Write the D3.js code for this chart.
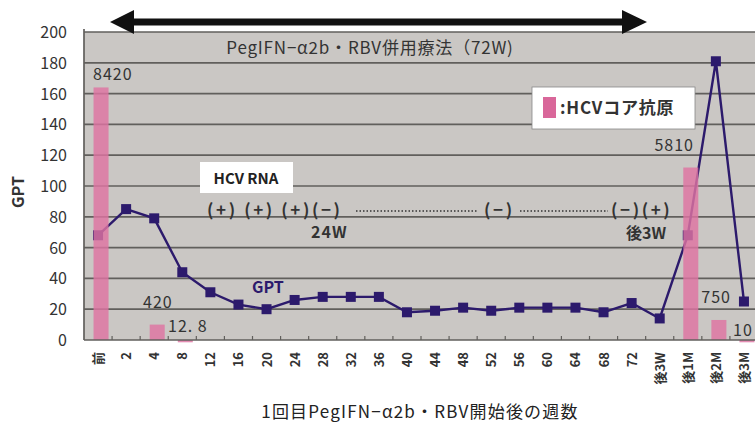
<!DOCTYPE html>
<html>
<head>
<meta charset="utf-8">
<style>
  body { margin: 0; background: #fff; }
  svg text { font-family: "Noto Sans CJK JP", "Liberation Sans", sans-serif; }
</style>
</head>
<body>
<div id="vis-gpt"></div>

<script src="https://d3js.org/d3.v7.min.js"></script>
<script>

	// Data //
	// ---- //

	const weeks = ["前", "2", "4", "8", "12", "16", "20", "24", "28", "32", "36", "40", "44",
		"48", "52", "56", "60", "64", "68", "72", "後3W", "後1M", "後2M", "後3M"];

	const gpt = [68, 85, 79, 44, 31, 23, 20, 26, 28, 28, 28, 18, 19,
		21, 19, 21, 21, 21, 18, 24, 14, 68, 181, 25];

	// HCVコア抗原 (bar height on GPT axis) and its label
	const coreWeeks = ["前", "4", "8", "後1M", "後2M", "後3M"];
	const coreHeights = [164, 10, -1.5, 112, 13, -1.5];
	const coreLabels = ["8420", "420", "12. 8", "5810", "750", "10"];

	const yTicks = [0, 20, 40, 60, 80, 100, 120, 140, 160, 180, 200];

	// Setup //
	// ----- //

	const W = 755, H = 424;
	const margin = {top: 32, right: -3, bottom: 84, left: 84};

	const svg = d3.select("#vis-gpt")
		.append("svg")
			.attr("width", W)
			.attr("height", H);

	const x = d3.scaleBand().domain(weeks).range([margin.left, W - margin.right]).padding(0);
	const y = d3.scaleLinear().domain([0, 200]).range([H - margin.bottom, margin.top]);

	const x0 = margin.left, x1 = W - margin.right;

	// plot background
	svg.append("rect")
		.attr("x", x0).attr("y", y(200))
		.attr("width", x1 - x0).attr("height", y(0) - y(200))
		.attr("fill", "#cac7c4");

	// gridlines
	svg.selectAll(".grid")
		.data(yTicks.filter(d => d > 0))
		.enter().append("line")
			.attr("x1", x0).attr("x2", x1)
			.attr("y1", d => y(d)).attr("y2", d => y(d))
			.attr("stroke", "#615f5c")
			.attr("stroke-width", 1.7);

	// left axis
	svg.append("line")
		.attr("x1", x0).attr("x2", x0)
		.attr("y1", y(200) - 3).attr("y2", y(0))
		.attr("stroke", "#615f5c").attr("stroke-width", 1.7);

	svg.selectAll(".ylab")
		.data(yTicks)
		.enter().append("text")
			.attr("x", 67)
			.attr("y", d => y(d) + 6)
			.attr("text-anchor", "end")
			.attr("font-family", "Liberation Sans")
			.attr("font-size", 16)
			.attr("fill", "#333")
			.text(d => d);

	svg.append("text")
		.attr("transform", "translate(24,192) rotate(-90)")
		.attr("text-anchor", "middle")
		.attr("font-size", 16)
		.attr("font-weight", "bold")
		.attr("fill", "#333")
		.text("GPT");

	// GPT line
	const line = d3.line()
		.x((d, i) => x(weeks[i]) + x.bandwidth() / 2)
		.y(d => y(d));

	svg.append("path")
		.datum(gpt)
		.attr("d", line)
		.attr("fill", "none")
		.attr("stroke", "#2c1a6c")
		.attr("stroke-width", 2.4);

	svg.selectAll(".mark")
		.data(gpt)
		.enter().append("rect")
			.attr("x", (d, i) => x(weeks[i]) + x.bandwidth() / 2 - 5)
			.attr("y", d => y(d) - 5)
			.attr("width", 10).attr("height", 10)
			.attr("fill", "#2c1a6c");

	// HCV core antigen bars
	const bw = 15;
	svg.selectAll(".bar")
		.data(coreHeights)
		.enter().append("rect")
			.attr("x", (d, i) => x(coreWeeks[i]) + x.bandwidth() / 2 - bw / 2 + 3)
			.attr("y", d => Math.min(y(d), y(0)))
			.attr("width", bw)
			.attr("height", d => Math.abs(y(0) - y(d)))
			.attr("fill", "#de74a2")
			.attr("fill-opacity", 0.82);

	// x axis
	svg.append("line")
		.attr("x1", x0).attr("x2", x1)
		.attr("y1", y(0)).attr("y2", y(0))
		.attr("stroke", "#615f5c").attr("stroke-width", 1.7);

	svg.selectAll(".xtick")
		.data(weeks.slice(1))
		.enter().append("line")
			.attr("x1", d => x(d)).attr("x2", d => x(d))
			.attr("y1", y(0)).attr("y2", y(0) - 4)
			.attr("stroke", "#615f5c").attr("stroke-width", 1.2);

	svg.selectAll(".xlab")
		.data(weeks)
		.enter().append("text")
			.attr("transform", d => "translate(" + (x(d) + x.bandwidth() / 2 + 5) + "," + 352 + ") rotate(-90)")
			.attr("text-anchor", "end")
			.attr("font-size", 13)
			.attr("font-weight", "bold")
			.attr("fill", "#333")
			.text(d => d);

	svg.append("text")
		.attr("x", 420).attr("y", 418)
		.attr("text-anchor", "middle")
		.attr("font-size", 17)
		.attr("letter-spacing", 1.2)
		.attr("fill", "#222")
		.text("1回目PegIFN−α2b・RBV開始後の週数");

	// bar labels
	const labelPos = [[93, 80, "start"], [143, 308, "start"], [168, 332, "start"],
		[694, 151, "end"], [731, 303, "end"], [733, 336, "start"]];
	svg.selectAll(".blab")
		.data(coreLabels)
		.enter().append("text")
			.attr("x", (d, i) => labelPos[i][0])
			.attr("y", (d, i) => labelPos[i][1])
			.attr("text-anchor", (d, i) => labelPos[i][2])
			.attr("font-family", "Liberation Sans")
			.attr("font-size", 16)
			.attr("letter-spacing", 1)
			.attr("fill", "#333")
			.text(d => d);

	// annotations
	// treatment arrow
	svg.append("path")
		.attr("d", "M110,22 L134,10 L134,18.5 L622,18.5 L622,10 L647,22 L622,34 L622,25.5 L134,25.5 L134,34 Z")
		.attr("fill", "#111");

	svg.append("text")
		.attr("x", 370).attr("y", 54)
		.attr("text-anchor", "middle")
		.attr("font-size", 17)
		.attr("letter-spacing", 0.8)
		.attr("fill", "#333")
		.text("PegIFN−α2b・RBV併用療法（72W)");

	// legend
	svg.append("rect")
		.attr("x", 532).attr("y", 87).attr("width", 163).attr("height", 42)
		.attr("fill", "#fff").attr("stroke", "#888").attr("stroke-width", 0.8);
	svg.append("rect")
		.attr("x", 543).attr("y", 97).attr("width", 13).attr("height", 21)
		.attr("fill", "#d9679a");
	svg.append("text")
		.attr("x", 560).attr("y", 114)
		.attr("font-size", 17)
		.attr("font-weight", "bold")
		.attr("letter-spacing", 0.8)
		.attr("fill", "#333")
		.text(":HCVコア抗原");

	// HCV RNA box
	svg.append("rect")
		.attr("x", 200).attr("y", 162).attr("width", 93).attr("height", 31)
		.attr("fill", "#fff");
	svg.append("text")
		.attr("x", 246).attr("y", 184)
		.attr("text-anchor", "middle")
		.attr("font-size", 15)
		.attr("font-weight", "bold")
		.attr("fill", "#222")
		.text("HCV RNA");

	const rna = [[207, "(+) (+) (+)(−)"], [484, "(−)"], [611, "(−)(+)"]];
	svg.selectAll(".rna")
		.data(rna)
		.enter().append("text")
			.attr("x", d => d[0]).attr("y", 216)
			.attr("font-family", "Liberation Sans")
			.attr("font-size", 17)
			.attr("font-weight", "bold")
			.attr("letter-spacing", 2.6)
			.attr("fill", "#333")
			.text(d => d[1]);

	[[356, 478], [520, 608]].forEach(s => {
		svg.append("line")
			.attr("x1", s[0]).attr("x2", s[1])
			.attr("y1", 211).attr("y2", 211)
			.attr("stroke", "#333").attr("stroke-width", 1.6)
			.attr("stroke-dasharray", "1.5,2");
	});

	svg.append("text")
		.attr("x", 311).attr("y", 238)
		.attr("font-family", "Liberation Sans")
		.attr("font-size", 16)
		.attr("font-weight", "bold")
		.attr("letter-spacing", 1)
		.attr("fill", "#333")
		.text("24W");

	svg.append("text")
		.attr("x", 626).attr("y", 239)
		.attr("font-size", 16)
		.attr("font-weight", "bold")
		.attr("fill", "#333")
		.text("後3W");

	svg.append("text")
		.attr("x", 252).attr("y", 293)
		.attr("font-size", 16)
		.attr("font-weight", "bold")
		.attr("fill", "#2c1a6c")
		.text("GPT");

</script>
</body>
</html>
